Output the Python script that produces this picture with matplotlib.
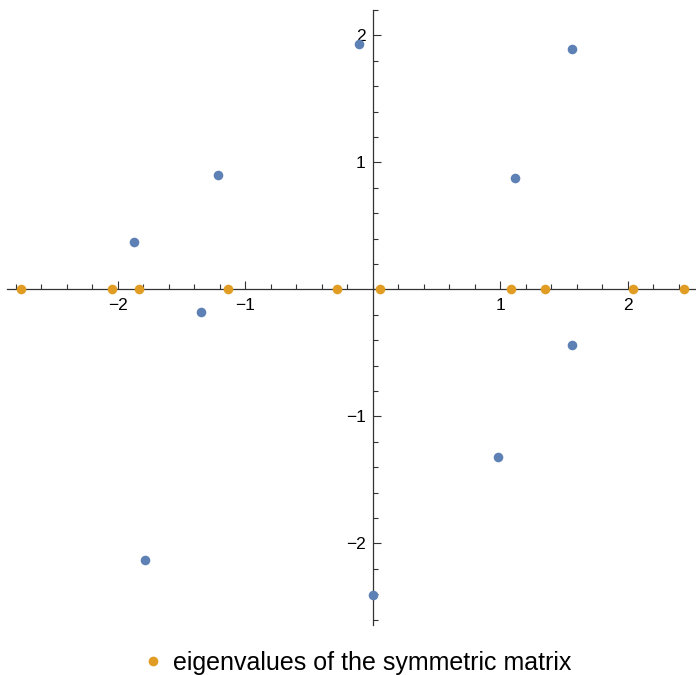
import numpy as np
import matplotlib.pyplot as plt
from matplotlib.lines import Line2D

plt.rcParams['font.family'] = ['Liberation Sans', 'DejaVu Sans']

# eigenvalues of the random (non-symmetric) matrix, complex plane
blue_re = [-0.105, 1.566, -1.216, 1.118, -1.872, -1.347, 1.566, 0.983, -1.786, 0.005]
blue_im = [1.934, 1.895, 0.900, 0.877, 0.376, -0.180, -0.439, -1.318, -2.132, -2.406]

# eigenvalues of the symmetric matrix (all real)
sym_eigs = [-2.758, -2.042, -1.833, -1.137, -0.282, 0.060, 1.085, 1.351, 2.039, 2.444]

blue = '#5E81B5'
orange = '#E19C24'
axis_col = '#333333'

fig = plt.figure(figsize=(6.96, 6.75), dpi=100)
ax = fig.add_axes([7.3 / 696, 50 / 675, 688.7 / 696, 615 / 675])

ax.scatter(blue_re, blue_im, s=48, color=blue, linewidths=0, zorder=3, clip_on=False)
ax.scatter(sym_eigs, np.zeros(len(sym_eigs)), s=48, color=orange, linewidths=0,
           zorder=3, clip_on=False)

ax.set_xlim(-2.866, 2.536)
ax.set_ylim(-2.643, 2.173)

for side in ['top', 'right']:
    ax.spines[side].set_visible(False)
for side in ['left', 'bottom']:
    ax.spines[side].set_position(('data', 0))
    ax.spines[side].set_color(axis_col)
    ax.spines[side].set_linewidth(0.9)

ax.set_xticks([-2, -1, 1, 2])
ax.set_yticks([-2, -1, 1, 2])
ax.set_xticks(np.arange(-2.8, 2.6, 0.2), minor=True)
ax.set_yticks(np.arange(-2.6, 2.2, 0.2), minor=True)
ax.tick_params(which='both', direction='in', color=axis_col, width=0.8, labelsize=12.5)
ax.tick_params(which='major', length=6)
ax.tick_params(which='minor', length=3.5)
ax.tick_params(axis='x', which='major', pad=6)
ax.tick_params(axis='y', which='major', pad=5)
ax.patch.set_alpha(0)

handle = Line2D([], [], marker='o', linestyle='none', color=orange, markersize=7,
                markeredgewidth=0)
fig.legend([handle], ['eigenvalues of the symmetric matrix'], loc='center',
           bbox_to_anchor=(0.512, 0.018), frameon=False, fontsize=18,
           handletextpad=0.35, handlelength=0.9)

fig.savefig('out.png', dpi=100)
